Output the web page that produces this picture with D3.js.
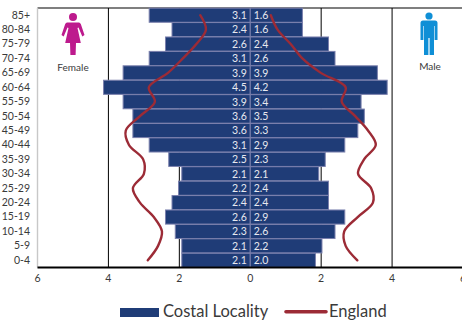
<!DOCTYPE html>
<html>
<head>
<meta charset="utf-8">
<script src="https://cdn.jsdelivr.net/npm/d3@7/dist/d3.min.js"></script>
<style>
html,body{margin:0;padding:0;background:#fff;overflow:hidden}
text{font-family:Lato,"Open Sans",sans-serif}
</style>
</head>
<body>
<svg id="chart" width="462" height="320"></svg>
<script>
// Population by five-year age band, percent of total
const ageBands = ["85+","80-84","75-79","70-74","65-69","60-64","55-59","50-54","45-49","40-44","35-39","30-34","25-29","20-24","15-19","10-14","5-9","0-4"];
const femaleLocal = [3.1,2.4,2.6,3.1,3.9,4.5,3.9,3.6,3.6,3.1,2.5,2.1,2.2,2.4,2.6,2.3,2.1,2.1];
const maleLocal = [1.6,1.6,2.4,2.6,3.9,4.2,3.4,3.5,3.3,2.9,2.3,2.1,2.4,2.4,2.9,2.6,2.2,2.0];
const femaleEngland = [1.41,1.25,1.52,1.90,2.32,2.86,2.69,3.11,3.51,3.42,3.02,3.00,3.31,3.11,2.72,2.49,2.60,2.89];
const maleEngland = [0.58,0.77,1.14,1.47,1.99,2.69,2.58,2.96,3.32,3.54,3.21,3.04,3.41,3.46,3.03,2.65,2.69,3.02];
const axisTicks = [-6,-4,-2,0,2,4,6];
const gridTicks = [-4,-2,2,4];
const legendNames = ["Costal Locality","England"];

const navy = "#1f3c77", barEdge = "#7b80ad", red = "#9c2b36", ink = "#3a3a3a";
const plot = {top:8, bottom:267.5, left:37.5, right:463, zero:250.25};

const svg = d3.select("#chart");

// Female values sit on the negative side of the axis, male on the positive side
const x = d3.scaleLinear().domain([-6,6]).range([plot.left, plot.right]);
const barWidth = d3.scaleLinear().domain([0,1]).range([0,32.6]);
const y = d3.scaleBand().domain(ageBands).range([plot.top, plot.bottom]).paddingInner(0.02).paddingOuter(0.01);

// Frame and grid
svg.append("line").attr("x1",plot.left).attr("x2",462).attr("y1",plot.top).attr("y2",plot.top)
  .attr("stroke","#000").attr("stroke-width",1.2);
svg.append("line").attr("x1",plot.left).attr("x2",plot.left).attr("y1",plot.top).attr("y2",plot.bottom)
  .attr("stroke","#c8c8c8").attr("stroke-width",1.4);
svg.selectAll("line.grid").data(gridTicks).enter().append("line").attr("class","grid")
  .attr("x1",d=>x(d)).attr("x2",d=>x(d))
  .attr("y1",plot.top).attr("y2",plot.bottom)
  .attr("stroke","#000").attr("stroke-width",1);

// Bars
const barGroup = svg.append("g");
barGroup.selectAll("rect.f").data(femaleLocal).enter().append("rect").attr("class","f")
  .attr("x",d=>plot.zero - barWidth(d)).attr("y",(d,i)=>y(ageBands[i]))
  .attr("width",d=>barWidth(d)).attr("height",y.bandwidth())
  .attr("fill",navy).attr("stroke",barEdge).attr("stroke-width",1);
barGroup.selectAll("rect.m").data(maleLocal).enter().append("rect").attr("class","m")
  .attr("x",plot.zero).attr("y",(d,i)=>y(ageBands[i]))
  .attr("width",d=>barWidth(d)).attr("height",y.bandwidth())
  .attr("fill",navy).attr("stroke",barEdge).attr("stroke-width",1);

// Value labels either side of the centre line
const labelY = i => y(ageBands[i]) + y.bandwidth()/2 + 3.8;
const fmt = d3.format(".1f");
barGroup.selectAll("text.f").data(femaleLocal).enter().append("text").attr("class","f")
  .attr("x",plot.zero-3.5).attr("y",(d,i)=>labelY(i)).attr("text-anchor","end")
  .attr("font-size",10.5).attr("fill","#e8e9f0").text(d=>fmt(d));
barGroup.selectAll("text.m").data(maleLocal).enter().append("text").attr("class","m")
  .attr("x",plot.zero+3.5).attr("y",(d,i)=>labelY(i))
  .attr("font-size",10.5).attr("fill","#e8e9f0").text(d=>fmt(d));

// England comparison curves
const rowMid = i => y(ageBands[i]) + y.bandwidth()/2;
const curve = d3.line().x(d=>d[0]).y(d=>d[1]).curve(d3.curveCatmullRom.alpha(0.5));
svg.append("path")
  .attr("d",curve(femaleEngland.map((v,i)=>[x(-v),rowMid(i)])))
  .attr("fill","none").attr("stroke",red).attr("stroke-width",2.4).attr("stroke-linecap","round");
svg.append("path")
  .attr("d",curve(maleEngland.map((v,i)=>[x(v),rowMid(i)])))
  .attr("fill","none").attr("stroke",red).attr("stroke-width",2.4).attr("stroke-linecap","round");

// Bottom axis
svg.append("line").attr("x1",plot.left).attr("x2",462).attr("y1",plot.bottom).attr("y2",plot.bottom)
  .attr("stroke","#000").attr("stroke-width",1.8);
svg.selectAll("text.xt").data(axisTicks).enter().append("text").attr("class","xt")
  .attr("x",d=>x(d)).attr("y",282).attr("text-anchor","middle")
  .attr("font-size",10.5).attr("fill",ink).text(d=>Math.abs(d));

// Age band labels
svg.selectAll("text.age").data(ageBands).enter().append("text").attr("class","age")
  .attr("x",30).attr("y",(d,i)=>rowMid(i)+3.4).attr("text-anchor","end")
  .attr("font-size",10.5).attr("fill",ink).text(d=>d);

// Female figure
const fig = svg.append("g").attr("transform","translate(73,0)").attr("fill","#bd1a8d");
fig.append("circle").attr("cx",0).attr("cy",17).attr("r",4);
fig.append("path").attr("d","M-6,22.5 L6,22.5 Q7,22.5 7.8,24 L11.5,35 L9.3,36.5 L5.5,27.5 L4.5,28 L7.8,43 L3,43 L2.6,55 L-2.6,55 L-3,43 L-7.8,43 L-4.5,28 L-5.5,27.5 L-9.3,36.5 L-11.5,35 L-7.8,24 Q-7,22.5 -6,22.5 Z");
svg.append("text").attr("x",73).attr("y",71).attr("text-anchor","middle")
  .attr("font-size",10).attr("fill",ink).text("Female");

// Male figure
const man = svg.append("g").attr("transform","translate(429,0)").attr("fill","#0f8fd6");
man.append("circle").attr("cx",0).attr("cy",16).attr("r",3.6);
man.append("path").attr("d","M-6,20.5 L6,20.5 Q8.5,20.5 8.5,23 L8.5,40 L5.6,40 L5.6,26 L5,26 L5,55 L0.6,55 L0.6,38 L-0.6,38 L-0.6,55 L-5,55 L-5,26 L-5.6,26 L-5.6,40 L-8.5,40 L-8.5,23 Q-8.5,20.5 -6,20.5 Z");
svg.append("text").attr("x",430).attr("y",70).attr("text-anchor","middle")
  .attr("font-size",10).attr("fill",ink).text("Male");

// Legend
svg.append("rect").attr("x",120).attr("y",308).attr("width",39).attr("height",9).attr("fill",navy);
svg.append("text").attr("x",163).attr("y",317).attr("font-size",16.5).attr("fill",ink).text(legendNames[0]);
svg.append("line").attr("x1",286).attr("x2",326).attr("y1",311.7).attr("y2",311.7)
  .attr("stroke",red).attr("stroke-width",3.6).attr("stroke-linecap","round");
svg.append("text").attr("x",329).attr("y",317).attr("font-size",16.5).attr("fill",ink).text(legendNames[1]);
</script>
</body>
</html>
